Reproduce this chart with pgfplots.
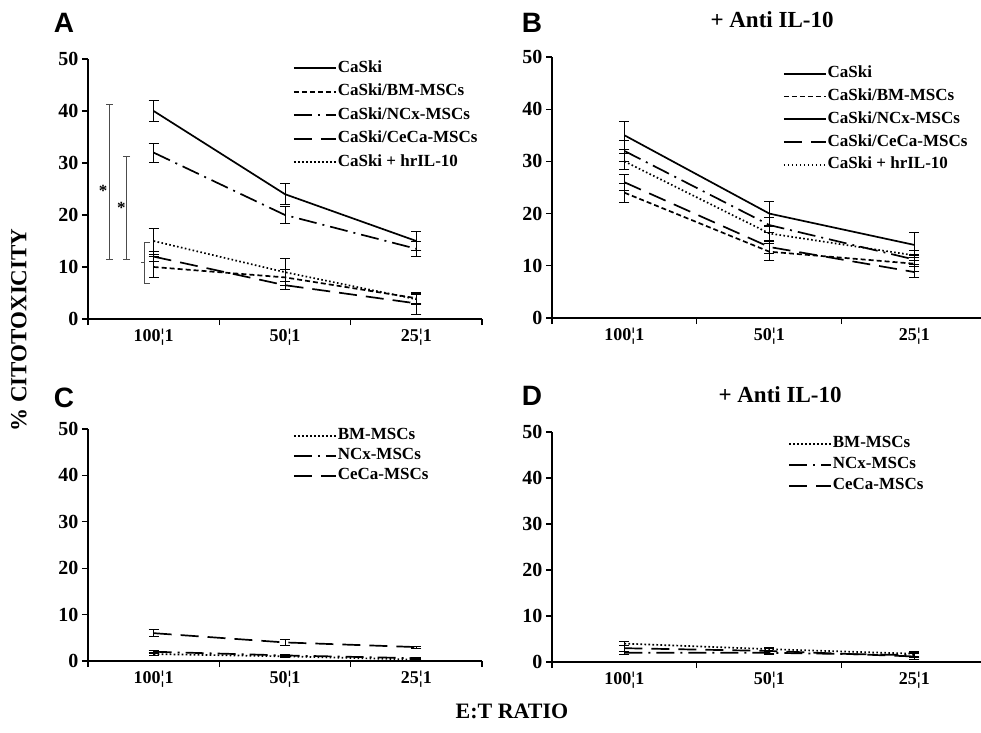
\documentclass[border=0pt]{standalone}
\usepackage{fontspec}
\setmainfont{Liberation Serif}
\newfontfamily\panelfont{Liberation Sans}
\usepackage{pgfplots}
\pgfplotsset{compat=1.18}

\pgfplotsset{
  lsolid/.style={black, line width=1.7pt, solid},
  lshort/.style={black, line width=1.7pt, dash pattern=on 5pt off 3pt},
  ldashdot/.style={black, line width=1.7pt, dash pattern=on 18pt off 6pt on 2pt off 6pt},
  llong/.style={black, line width=1.7pt, dash pattern=on 18pt off 9pt},
  ldot/.style={black, line width=1.7pt, dash pattern=on 1.6pt off 2.4pt},
  ERR/.style={
    /pgfplots/error bars/y dir=both,
    /pgfplots/error bars/y explicit,
    /pgfplots/error bars/error bar style={solid, line width=0.9pt},
    /pgfplots/error bars/error mark options={rotate=90, mark size=5pt, line width=0.9pt, solid}},
  panel/.style={
    scale only axis,
    axis x line=bottom, axis y line=left,
    axis line style={-, line width=1.1pt, black},
    xmin=-0.5, ymin=0, ymax=50, ytick={0,10,...,50},
    xtick={0,1,2}, xticklabels={100¦1,50¦1,25¦1},
    minor xtick={-0.5,0.5,1.5,2.5},
    tick align=outside, major tick length=6pt, minor tick length=6pt,
    major x tick style={draw=none},
    minor x tick style={line width=1.1pt, black},
    major y tick style={line width=1.1pt, black},
    yticklabel style={font=\fontsize{20}{20}\selectfont\bfseries},
    xticklabel style={font=\fontsize{18}{18}\selectfont\bfseries},
    /pgf/number format/assume math mode=true,
    legend style={draw=none, fill=none, anchor=north west, inner sep=0pt,
      font=\fontsize{17}{17}\selectfont\bfseries,
      cells={anchor=west}, nodes={inner sep=1pt, text height=11pt, text depth=3pt}},
    legend image code/.code={\draw (0pt,0pt) -- (42pt,0pt);},
    clip=false,
  },
}

\begin{document}
\begin{tikzpicture}
\path[use as bounding box] (0pt,0pt) rectangle (981pt,732pt);

% Panel A
\begin{axis}[panel, at={(88pt,413pt)}, anchor=south west, width=394pt, height=260pt, xmax=2.5,
  legend style={at={(0.52,0.996)}, row sep=7.5pt}]
  \addlegendimage{lsolid}\addlegendentry{CaSki}
  \addlegendimage{lshort}\addlegendentry{CaSki/BM-MSCs}
  \addlegendimage{ldashdot}\addlegendentry{CaSki/NCx-MSCs}
  \addlegendimage{llong}\addlegendentry{CaSki/CeCa-MSCs}
  \addlegendimage{ldot}\addlegendentry{CaSki + hrIL-10}
  \addplot[lsolid, forget plot, ERR] coordinates {(0,40) +- (0,2) (1,24) +- (0,2) (2,15) +- (0,1.8)};
  \addplot[ldashdot, forget plot, ERR] coordinates {(0,32) +- (0,1.8) (1,20) +- (0,1.6) (2,13.5) +- (0,1.4)};
  \addplot[ldot, forget plot, ERR] coordinates {(0,15) +- (0,2.5) (1,9) +- (0,2.6) (2,3.8) +- (0,1)};
  \addplot[llong, forget plot, ERR] coordinates {(0,12) +- (0,1) (1,6.5) +- (0,0.8) (2,3) +- (0,2.2)};
  \addplot[lshort, forget plot, ERR] coordinates {(0,10) +- (0,2) (1,8) +- (0,1.5) (2,4) +- (0,1)};
  % significance
  \addplot[gray!60!black, line width=1pt, mark=-, mark size=3.5pt, forget plot] coordinates {(-0.34,11.5) (-0.34,41.2)};
  \addplot[gray!60!black, line width=1pt, mark=-, mark size=3.5pt, forget plot] coordinates {(-0.205,11.5) (-0.205,31.3)};
  \addplot[gray!60!black, line width=1pt, forget plot] coordinates {(-0.03,14.8) (-0.068,14.8) (-0.068,6.9) (-0.03,6.9)};
  \addplot[gray!60!black, line width=1pt, forget plot] coordinates {(-0.068,10.8) (-0.1,10.8)};
  \node[font=\fontsize{17}{17}\selectfont\bfseries] at (axis cs:-0.385,24.6) {*};
  \node[font=\fontsize{17}{17}\selectfont\bfseries] at (axis cs:-0.245,21.4) {*};
\end{axis}

% Panel B
\begin{axis}[panel, at={(552pt,414pt)}, anchor=south west, width=429pt, height=261pt, xmax=2.46,
  legend style={at={(0.538,0.967)}, row sep=6.75pt}]
  \addlegendimage{lsolid}\addlegendentry{CaSki}
  \addlegendimage{lshort}\addlegendentry{CaSki/BM-MSCs}
  \addlegendimage{lsolid}\addlegendentry{CaSki/NCx-MSCs}
  \addlegendimage{llong}\addlegendentry{CaSki/CeCa-MSCs}
  \addlegendimage{ldot}\addlegendentry{CaSki + hrIL-10}
  \addplot[lsolid, forget plot, ERR] coordinates {(0,35) +- (0,2.7) (1,20) +- (0,2.4) (2,14) +- (0,2.4)};
  \addplot[ldashdot, forget plot, ERR] coordinates {(0,32) +- (0,2) (1,17.8) +- (0,1.5) (2,11.2) +- (0,1)};
  \addplot[ldot, forget plot, ERR] coordinates {(0,30) +- (0,1.5) (1,16.2) +- (0,1.5) (2,12) +- (0,1)};
  \addplot[llong, forget plot, ERR] coordinates {(0,26) +- (0,1.5) (1,13.6) +- (0,1.2) (2,8.8) +- (0,1)};
  \addplot[lshort, forget plot, ERR] coordinates {(0,24) +- (0,1.8) (1,12.7) +- (0,1.6) (2,10.4) +- (0,1.5)};
\end{axis}

% Panel C
\begin{axis}[panel, at={(88pt,71pt)}, anchor=south west, width=394pt, height=232pt, xmax=2.5,
  legend style={at={(0.52,1.006)}, row sep=4pt}]
  \addlegendimage{ldot}\addlegendentry{BM-MSCs}
  \addlegendimage{ldashdot}\addlegendentry{NCx-MSCs}
  \addlegendimage{llong}\addlegendentry{CeCa-MSCs}
  \addplot[ldot, forget plot, ERR] coordinates {(0,1.5) +- (0,0.3) (1,1) +- (0,0.2) (2,0.3) +- (0,0.2)};
  \addplot[ldashdot, forget plot, ERR] coordinates {(0,2) +- (0,0.3) (1,1.2) +- (0,0.3) (2,0.6) +- (0,0.2)};
  \addplot[llong, forget plot, ERR] coordinates {(0,6) +- (0,0.8) (1,4) +- (0,0.6) (2,3) +- (0,0.2)};
\end{axis}

% Panel D
\begin{axis}[panel, at={(552pt,70pt)}, anchor=south west, width=429pt, height=230pt, xmax=2.46,
  legend style={at={(0.55,0.985)}, row sep=5pt}]
  \addlegendimage{ldot}\addlegendentry{BM-MSCs}
  \addlegendimage{ldashdot}\addlegendentry{NCx-MSCs}
  \addlegendimage{llong}\addlegendentry{CeCa-MSCs}
  \addplot[ldot, forget plot, ERR] coordinates {(0,4) +- (0,0.5) (1,2.8) +- (0,0.4) (2,1.8) +- (0,0.5)};
  \addplot[ldashdot, forget plot, ERR] coordinates {(0,2) +- (0,0.4) (1,2) +- (0,0.4) (2,1.5) +- (0,0.5)};
  \addplot[llong, forget plot, ERR] coordinates {(0,3) +- (0,0.6) (1,2.4) +- (0,0.5) (2,1.2) +- (0,0.6)};
\end{axis}

% Labels and panel titles
\node[font=\panelfont\fontsize{28}{28}\selectfont\bfseries] at (64pt,709pt) {A};
\node[font=\panelfont\fontsize{28}{28}\selectfont\bfseries] at (532pt,709pt) {B};
\node[font=\panelfont\fontsize{28}{28}\selectfont\bfseries] at (64pt,334pt) {C};
\node[font=\panelfont\fontsize{28}{28}\selectfont\bfseries] at (532pt,336pt) {D};
\node[font=\fontsize{23}{23}\selectfont\bfseries] at (772pt,712pt) {+ Anti IL-10};
\node[font=\fontsize{23}{23}\selectfont\bfseries] at (780pt,337pt) {+ Anti IL-10};
\node[font=\fontsize{23}{23}\selectfont\bfseries, rotate=90] at (19pt,402pt) {\% CITOTOXICITY};
\node[font=\fontsize{22}{22}\selectfont\bfseries] at (512pt,21pt) {E:T RATIO};
\end{tikzpicture}
\end{document}
